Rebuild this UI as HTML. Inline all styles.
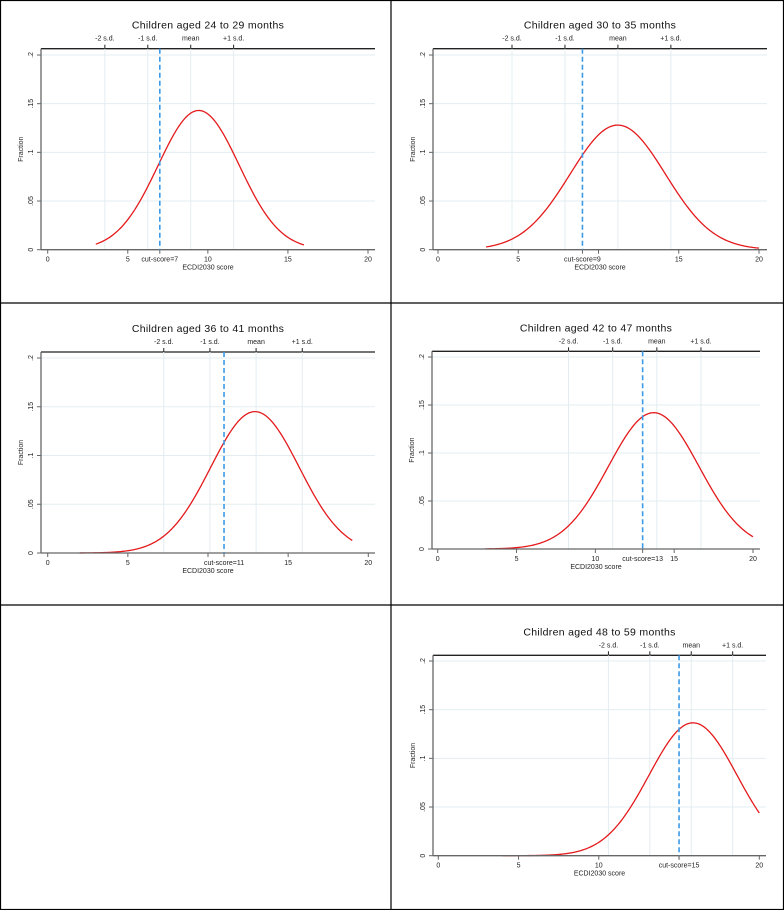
<!DOCTYPE html>
<html><head><meta charset="utf-8"><style>
html,body{margin:0;padding:0;background:#fff}
svg{display:block;font-family:"Liberation Sans",sans-serif}
</style></head><body>
<svg id="chart" width="784" height="910" viewBox="0 0 784 910" xmlns="http://www.w3.org/2000/svg"></svg>
<script>
// data per panel
const panelTitles = ["Children aged 24 to 29 months","Children aged 30 to 35 months","Children aged 36 to 41 months","Children aged 42 to 47 months","Children aged 48 to 59 months"];
const curveMean = [9.43, 11.2, 12.93, 13.7, 15.87];
const curveSd = [2.53, 2.97, 2.76, 2.87, 2.74];
const curvePeak = [0.143, 0.128, 0.145, 0.142, 0.1365];
const curveStart = [3, 3, 2, 3, 4];
const curveEnd = [16, 20, 19, 20, 20];
const sdMean = [8.93, 11.21, 13.0, 13.9, 15.76];
const sdWidth = [2.68, 3.3, 2.88, 2.8, 2.58];
const cutScores = [7, 9, 11, 13, 15];
const xTicks = [0, 5, 10, 15, 20];
const yTicks = [0, 0.05, 0.1, 0.15, 0.2];
const yTickLabels = ["0", ".05", ".1", ".15", ".2"];
const sdLabels = ["-2 s.d.", "-1 s.d.", "mean", "+1 s.d."];
const sdOffsets = [-2, -1, 0, 1];

// layout (not data)
const origins = [[0,0],[392,0],[0,303],[392,303],[392,605]];
const geo = [
 {l:41,r:375,top:48.7,x0:47.7,x20:368,y0:249.7,y2:55},
 {l:41,r:375,top:48.7,x0:46,x20:367,y0:249.7,y2:55},
 {l:41,r:375,top:49,x0:47.7,x20:368.3,y0:250,y2:55},
 {l:40,r:368,top:48.3,x0:45.7,x20:361,y0:246,y2:54},
 {l:41,r:374,top:50.3,x0:46.3,x20:367.3,y0:250.7,y2:56}
];
const NS="http://www.w3.org/2000/svg";
const svg=document.getElementById('chart');
function mk(tag,attrs,parent){const e=document.createElementNS(NS,tag);for(const k in attrs)e.setAttribute(k,attrs[k]);(parent||svg).appendChild(e);return e;}

// frame
const frame=mk('g',{});


mk('rect',{x:0.5,y:0.5,width:783,height:909,fill:'none',stroke:'#000','stroke-width':1.2},frame);
mk('line',{x1:391,y1:0,x2:391,y2:910,stroke:'#000','stroke-width':1.2},frame);
mk('line',{x1:0,y1:303,x2:784,y2:303,stroke:'#000','stroke-width':1.2},frame);
mk('line',{x1:0,y1:605,x2:784,y2:605,stroke:'#000','stroke-width':1.2},frame);

for(let i=0;i<panelTitles.length;i++){
  const [ox,oy]=origins[i], g=geo[i];
  const X=v=>ox+g.x0+(g.x20-g.x0)*v/20;
  const Y=v=>oy+g.y0+(g.y2-g.y0)*v/0.2;
  const p=mk('g',{});
  
  
  yTicks.forEach((t,k)=>{ if(k>0){
    const gl=mk('line',{x1:ox+g.l,x2:ox+g.r,y1:Y(t),y2:Y(t),stroke:'#e3edf1','stroke-width':1},p);
    
    
  }});
  const top=mk('line',{x1:ox+g.l,x2:ox+g.r,y1:oy+g.top,y2:oy+g.top,stroke:'#222','stroke-width':1.3},p);
  
  
  sdOffsets.forEach((o,k)=>{
    const xv=X(sdMean[i]+o*sdWidth[i]);
    const gl=mk('line',{x1:xv,x2:xv,y1:oy+g.top,y2:Y(0),stroke:'#e3edf1','stroke-width':1},p);
    
    
    mk('line',{x1:xv,x2:xv,y1:oy+g.top,y2:oy+g.top-4,stroke:'#222','stroke-width':1},p);
    const tx=mk('text',{x:xv,y:oy+g.top-8,'font-size':7,'text-anchor':'middle',fill:'#222'},p);
    tx.textContent=sdLabels[k];
    
    
  });
  const tt=mk('text',{x:ox+(g.l+g.r)/2,y:oy+g.top-20,'font-size':10.5,'text-anchor':'middle',fill:'#111','letter-spacing':'0.3'},p);
  tt.textContent=panelTitles[i];
  
  
  let d='';
  const n=200;
  for(let s=0;s<=n;s++){
    const xv=curveStart[i]+(curveEnd[i]-curveStart[i])*s/n;
    const yv=curvePeak[i]*Math.exp(-Math.pow(xv-curveMean[i],2)/(2*curveSd[i]*curveSd[i]));
    d+=(s?'L':'M')+X(xv).toFixed(2)+','+Y(yv).toFixed(2);
  }
  const c=mk('path',{d:d,fill:'none',stroke:'#e41a1c','stroke-width':1.3},p);
  
  
  const ya=mk('line',{x1:ox+g.l,x2:ox+g.l,y1:oy+g.top,y2:Y(0),stroke:'#666','stroke-width':1.3},p);
  
  
  const xa=mk('line',{x1:ox+g.l,x2:ox+g.r,y1:Y(0),y2:Y(0),stroke:'#666','stroke-width':1.3},p);
  
  
  yTicks.forEach((t,k)=>{
    mk('line',{x1:ox+g.l-4,x2:ox+g.l,y1:Y(t),y2:Y(t),stroke:'#666','stroke-width':1},p);
    const tx=mk('text',{x:0,y:0,'font-size':7,'text-anchor':'middle',fill:'#222',transform:`translate(${ox+g.l-8},${Y(t)}) rotate(-90)`},p);
    tx.textContent=yTickLabels[k];
    
    
  });
  const cx=X(cutScores[i]);
  xTicks.forEach(t=>{
    mk('line',{x1:X(t),x2:X(t),y1:Y(0),y2:Y(0)+4,stroke:'#666','stroke-width':1},p);
    if(Math.abs(X(t)-cx)<25) return;
    const tx=mk('text',{x:X(t),y:Y(0)+12,'font-size':7,'text-anchor':'middle',fill:'#222'},p);
    tx.textContent=String(t);
    
    
  });
  const cl=mk('line',{x1:cx,x2:cx,y1:oy+g.top,y2:Y(0),stroke:'#3b9ae8','stroke-width':1.6,'stroke-dasharray':'5,3'},p);
  
  
  mk('line',{x1:cx,x2:cx,y1:Y(0),y2:Y(0)+4,stroke:'#666','stroke-width':1},p);
  const ct=mk('text',{x:cx,y:Y(0)+12,'font-size':7,'text-anchor':'middle',fill:'#222'},p);
  ct.textContent='cut-score='+cutScores[i];
  
  
  const xt=mk('text',{x:ox+(g.l+g.r)/2,y:Y(0)+20,'font-size':7,'text-anchor':'middle',fill:'#222'},p);
  xt.textContent='ECDI2030 score';
  
  
  const yt=mk('text',{x:0,y:0,'font-size':7,'text-anchor':'middle',fill:'#222',transform:`translate(${ox+g.l-18},${oy+(g.top+g.y0)/2}) rotate(-90)`},p);
  yt.textContent='Fraction';
  
  
}
</script>
</body></html>
